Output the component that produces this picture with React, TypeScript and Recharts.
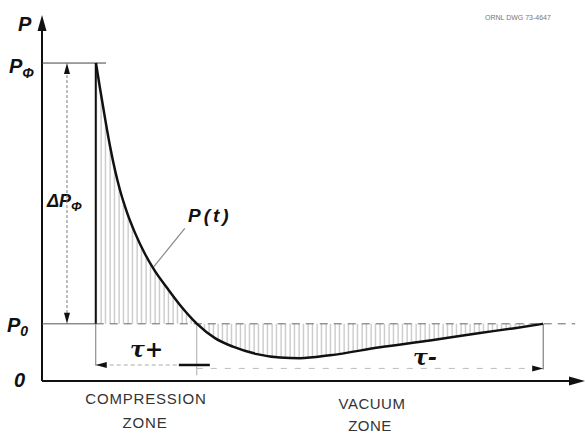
import React from 'react';
import {
  ComposedChart,
  Area,
  Line,
  Scatter,
  XAxis,
  YAxis,
  ReferenceLine
} from 'recharts';

// pressure curve P(t) (t: 0..100, P: P0 = 1)
const TIME = [9.94, 10.68, 11.6, 12.52, 13.44, 14.36, 15.65, 17.13, 18.97, 20.81, 23.02, 25.41, 28.55, 31.86, 35.17, 39.59, 43.83, 47.51, 53.04, 62.25, 71.45, 80.66, 86.74, 92.27];
const PRESSURE = [5.56, 5.12, 4.6, 4.11, 3.69, 3.34, 2.95, 2.59, 2.22, 1.92, 1.63, 1.33, 1.0, 0.75, 0.6, 0.47, 0.41, 0.4, 0.45, 0.59, 0.71, 0.84, 0.92, 1.0];

const P0 = 1;
const P_PHI = 5.56;
const T_START = 9.9;
const T_CROSS = 28.5;
const T_END = 92.3;

const T_MAX = 100;
const P_MAX = 6.4;

// arrow heads: axes and dimension lines
const ARROWS = [
  { t: T_MAX, p: 0, dir: 'right', size: 'big' },
  { t: 0, p: P_MAX, dir: 'up', size: 'big' },
  { t: 4.6, p: P_PHI, dir: 'up', size: 'small' },
  { t: 4.6, p: P0, dir: 'down', size: 'small' },
  { t: T_START, p: 0.28, dir: 'left', size: 'small' },
  { t: T_END, p: 0.22, dir: 'right', size: 'small' }
];

const curveData = TIME.map((t, i) => ({ t, p: PRESSURE[i] }));

function ArrowHead(props: any) {
  const { cx, cy, payload } = props;
  const len = payload.size === 'big' ? 16 : 11;
  const half = payload.size === 'big' ? 4.5 : 3;
  let pts = '';
  if (payload.dir === 'right') pts = `${cx},${cy} ${cx - len},${cy - half} ${cx - len},${cy + half}`;
  if (payload.dir === 'left') pts = `${cx},${cy} ${cx + len},${cy - half} ${cx + len},${cy + half}`;
  if (payload.dir === 'up') pts = `${cx},${cy} ${cx - half},${cy + len} ${cx + half},${cy + len}`;
  if (payload.dir === 'down') pts = `${cx},${cy} ${cx - half},${cy - len} ${cx + half},${cy - len}`;
  return <polygon points={pts} fill="#111" />;
}

const labelFont = '"Liberation Sans", Arial, sans-serif';

export default function App() {
  return (
    <div style={{ position: 'absolute', left: 0, top: 0, width: 585, height: 435, background: '#fff' }}>
      <ComposedChart
        width={585}
        height={435}
        margin={{ top: 15, right: 0, left: 42, bottom: 54 }}
      >
        <defs>
          <pattern id="hatch" width="4.5" height="8" patternUnits="userSpaceOnUse">
            <line x1="2" y1="0" x2="2" y2="8" stroke="#9a9a9a" strokeWidth="0.8" />
          </pattern>
        </defs>
        <XAxis type="number" dataKey="t" domain={[0, T_MAX]} hide />
        <YAxis type="number" dataKey="p" domain={[0, P_MAX]} hide />

        <Area
          data={curveData}
          dataKey="p"
          type="monotone"
          baseValue={P0}
          stroke="none"
          fill="url(#hatch)"
          fillOpacity={1}
          isAnimationActive={false}
        />

        {/* axes */}
        <ReferenceLine segment={[{ x: 0, y: 0 }, { x: T_MAX - 2, y: 0 }]} stroke="#111" strokeWidth={2} />
        <ReferenceLine segment={[{ x: 0, y: 0 }, { x: 0, y: P_MAX - 0.2 }]} stroke="#111" strokeWidth={2} />

        {/* levels */}
        <ReferenceLine segment={[{ x: 0, y: P_PHI }, { x: 11.8, y: P_PHI }]} stroke="#444" strokeWidth={1} />
        <ReferenceLine segment={[{ x: 0, y: P0 }, { x: T_START, y: P0 }]} stroke="#555" strokeWidth={1} />
        <ReferenceLine segment={[{ x: T_START, y: P0 }, { x: 98.2, y: P0 }]} stroke="#666" strokeWidth={1} strokeDasharray="8 6" />

        {/* delta P dimension */}
        <ReferenceLine segment={[{ x: 4.6, y: P0 + 0.1 }, { x: 4.6, y: P_PHI - 0.1 }]} stroke="#777" strokeWidth={1} strokeDasharray="3 2" />

        {/* front edge and extension lines */}
        <ReferenceLine segment={[{ x: T_START, y: P0 }, { x: T_START, y: P_PHI }]} stroke="#111" strokeWidth={2} />
        <ReferenceLine segment={[{ x: T_START, y: 0.27 }, { x: T_START, y: P0 }]} stroke="#777" strokeWidth={1} />
        <ReferenceLine segment={[{ x: T_CROSS, y: 0.1 }, { x: T_CROSS, y: P0 }]} stroke="#aaa" strokeWidth={1} />
        <ReferenceLine segment={[{ x: T_END, y: 0.2 }, { x: T_END, y: P0 }]} stroke="#666" strokeWidth={1} />

        {/* time dimensions */}
        <ReferenceLine segment={[{ x: T_START, y: 0.28 }, { x: 30.9, y: 0.28 }]} stroke="#aaa" strokeWidth={1} strokeDasharray="4 3" />
        <ReferenceLine segment={[{ x: 25.2, y: 0.28 }, { x: 30.9, y: 0.28 }]} stroke="#111" strokeWidth={2.5} />
        <ReferenceLine segment={[{ x: T_CROSS, y: 0.22 }, { x: T_END, y: 0.22 }]} stroke="#bbb" strokeWidth={1} strokeDasharray="6 8" />

        {/* P(t) leader */}
        <ReferenceLine segment={[{ x: 26.3, y: 2.67 }, { x: 20.6, y: 2.0 }]} stroke="#888" strokeWidth={1.2} />

        <Line
          data={curveData}
          dataKey="p"
          type="monotone"
          stroke="#111"
          strokeWidth={2.5}
          dot={false}
          isAnimationActive={false}
        />

        <Scatter data={ARROWS} dataKey="p" shape={ArrowHead} isAnimationActive={false} />

        {/* labels */}
        <text x={18} y={31} fontFamily={labelFont} fontStyle="italic" fontWeight={700} fontSize={20} fill="#111">P</text>
        <text x={9} y={73} fontFamily={labelFont} fontStyle="italic" fontWeight={700} fontSize={20} fill="#111">
          P<tspan dy={5} fontSize={14}>Φ</tspan>
        </text>
        <text x={7} y={332} fontFamily={labelFont} fontStyle="italic" fontWeight={700} fontSize={20} fill="#111">
          P<tspan dy={4} fontSize={14}>0</tspan>
        </text>
        <text x={14} y={387} fontFamily={labelFont} fontStyle="italic" fontWeight={600} fontSize={20} fill="#111">0</text>
        <rect x={48} y={190} width={42} height={22} fill="#fff" />
        <text x={47} y={207} fontFamily={labelFont} fontStyle="italic" fontWeight={600} fontSize={18} fill="#111">
          ΔP<tspan dy={4} fontSize={13}>Φ</tspan>
        </text>
        <text x={188} y={222} fontFamily={labelFont} fontStyle="italic" fontWeight={700} fontSize={19} letterSpacing={3} fill="#111">P(t)</text>
        <text x={130} y={357} fontFamily="'DejaVu Serif', serif" fontStyle="italic" fontWeight={700} fontSize={22} fill="#111">τ+</text>
        <text x={413} y={365} fontFamily="'DejaVu Serif', serif" fontStyle="italic" fontWeight={700} fontSize={22} fill="#111">τ-</text>
        <text x={146} y={404} textAnchor="middle" fontFamily={labelFont} fontSize={15} letterSpacing={0.8} fill="#333">COMPRESSION</text>
        <text x={145} y={428} textAnchor="middle" fontFamily={labelFont} fontSize={15} letterSpacing={0.8} fill="#333">ZONE</text>
        <text x={372} y={409} textAnchor="middle" fontFamily={labelFont} fontSize={15} letterSpacing={0.5} fill="#333">VACUUM</text>
        <text x={370} y={431} textAnchor="middle" fontFamily={labelFont} fontSize={15} letterSpacing={0.5} fill="#333">ZONE</text>
        <text x={485} y={20} fontFamily={labelFont} fontSize={7} fill="#777">ORNL DWG 73-4647</text>
      </ComposedChart>
    </div>
  );
}
